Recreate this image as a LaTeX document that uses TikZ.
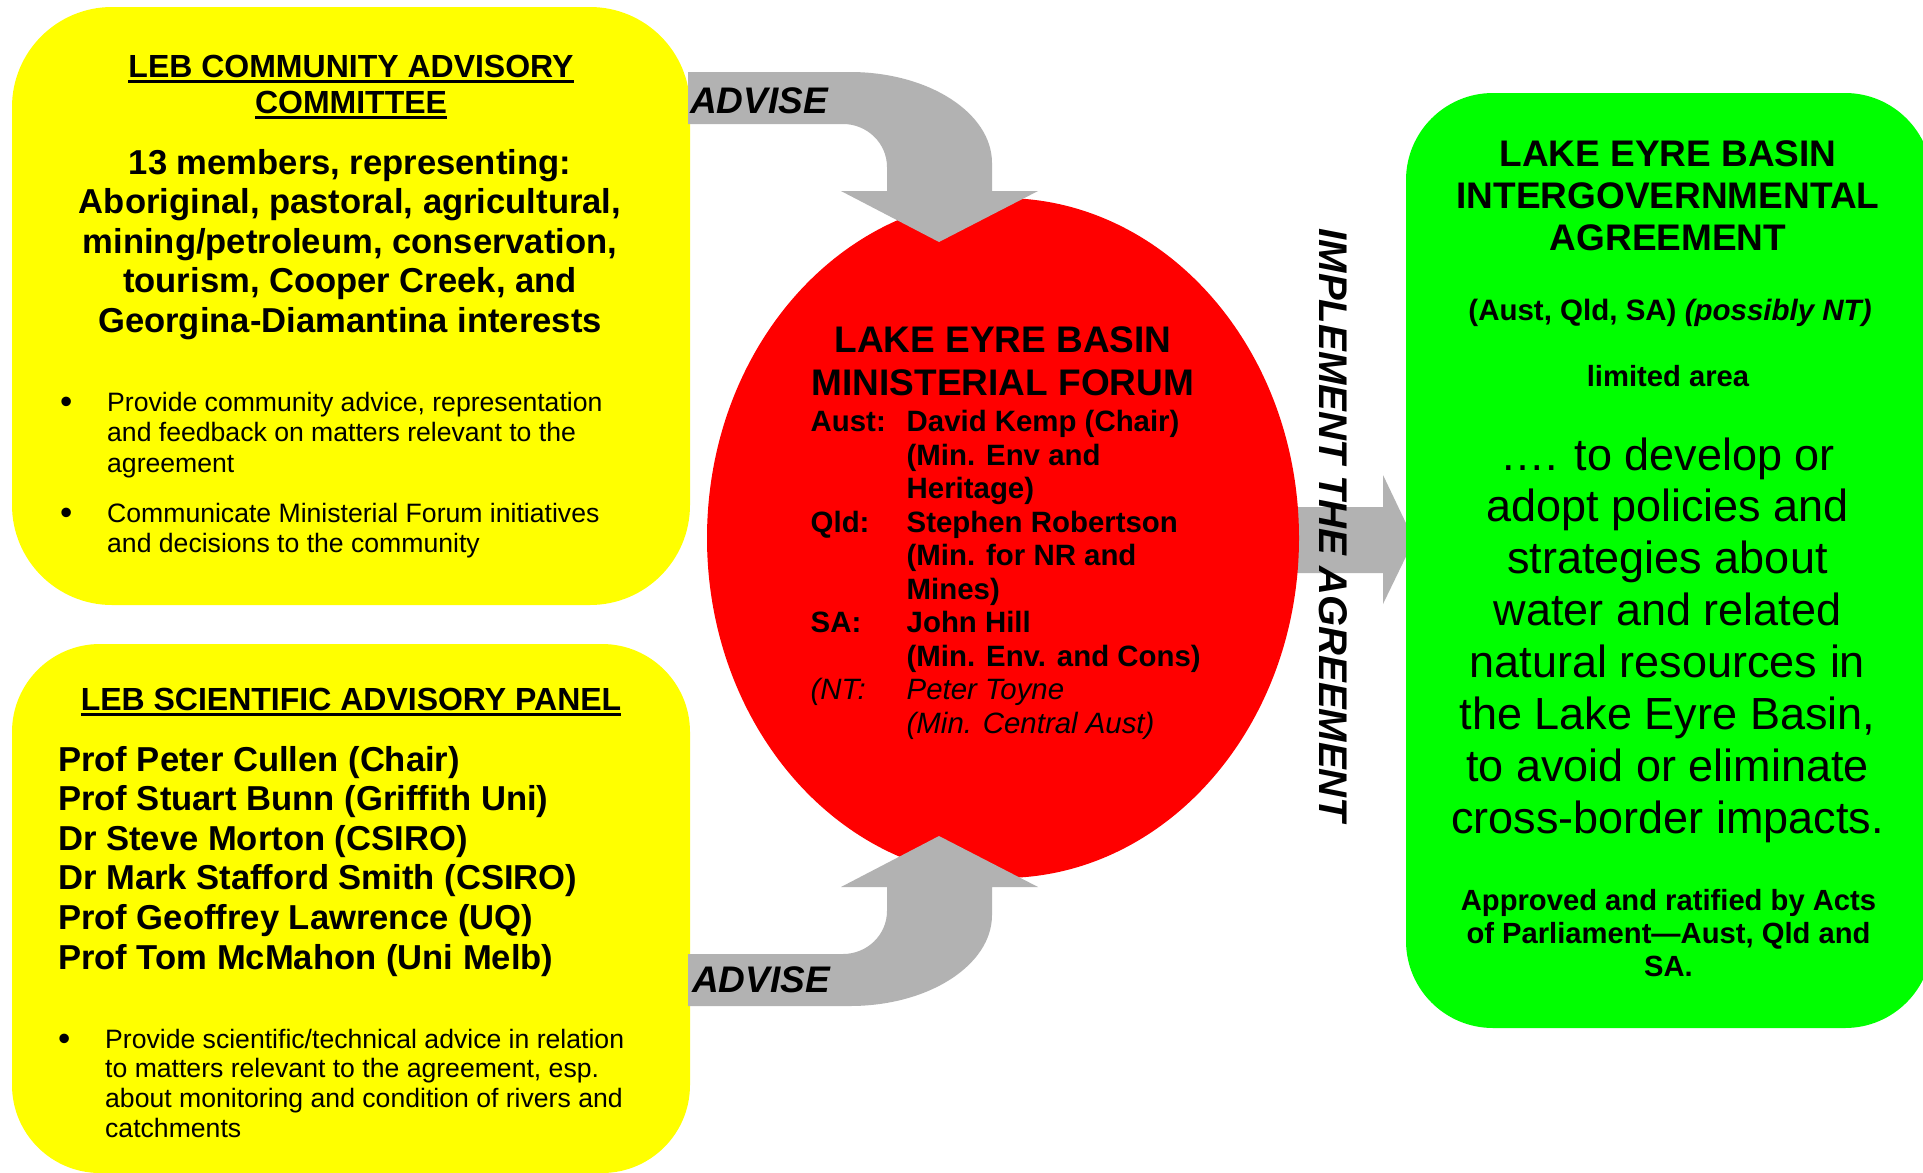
\documentclass[tikz,border=0pt]{standalone}
\usepackage{fontspec}
\setmainfont{Liberation Sans}
\usetikzlibrary{shapes.geometric}
\definecolor{ppyellow}{HTML}{FFFF00}
\definecolor{ppred}{HTML}{FF0000}
\definecolor{ppgreen}{HTML}{00FF00}
\definecolor{ppgray}{HTML}{B2B2B2}
\newcommand\fs[2]{\fontsize{#1pt}{#2pt}\selectfont}
\newcommand\cblk[1]{\vtop{\halign{\hfil##\hfil\cr#1\crcr}}}
\newcommand\lblk[1]{\vtop{\halign{##\hfil\cr#1\crcr}}}
\newcommand\twocol[2]{\vtop{\halign{\hbox to #1{##\hfil}&##\hfil\cr#2\crcr}}}
\newcommand\ulin[1]{\setbox0\hbox{#1}\rlap{\rule[-5.8pt]{\wd0}{3.3pt}}\box0}
\newcommand\bul{\raisebox{-2.6pt}{\fontsize{35pt}{35pt}\selectfont •}}
\begin{document}
\begin{tikzpicture}[x=1pt,y=-1pt,
  box/.style={draw=none, rectangle, inner sep=0pt},
  txt/.style={inner sep=0pt, anchor=base, text=black},
  ltxt/.style={inner sep=0pt, anchor=base west, text=black}]
\useasboundingbox[fill=white] (0,0) rectangle (1923,1173);
% implement arrow (behind ellipse and agreement box)
\coordinate (imptail) at (1290,540);
\fill[ppgray] (imptail) ++(0,-33) -- ++(93,0) -- ++(0,-32) -- ++(31,65) -- ++(-31,64) -- ++(0,-31) -- ++(-93,0) -- cycle;
% advisory boxes
\node[box, fill=ppyellow, minimum width=678pt, minimum height=598pt, rounded corners=100pt] (cac) at (351,306) {};
\node[box, fill=ppyellow, minimum width=678pt, minimum height=529pt, rounded corners=88pt] (sap) at (351,908.5) {};
% ministerial forum
\node[ellipse, fill=ppred, draw=none, minimum width=592pt, minimum height=680pt, inner sep=0pt] (mf) at (1003,538) {};
% advise arrows
\coordinate (tip1) at (939,242);
\coordinate (tip2) at (939,836);
\fill[ppgray] (688,72) -- (850,72) .. controls (928.4,72) and (992,112.8) .. (992,163) -- (992,191) -- (1038,191) -- (tip1) -- (841,191) -- (887,191) -- (887,167) .. controls (887,143.3) and (867.3,124) .. (843,124) -- (688,124) -- cycle;
\fill[ppgray] (688,1006) -- (850,1006) .. controls (928.4,1006) and (992,965.2) .. (992,915) -- (992,887) -- (1038,887) -- (tip2) -- (841,887) -- (887,887) -- (887,911) .. controls (887,934.7) and (867.3,954) .. (843,954) -- (688,954) -- cycle;
% agreement box
\node[box, fill=ppgreen, minimum width=526pt, minimum height=935pt, rounded corners=87pt] (ig) at (1669,560.5) {};
% labels on arrows
\node[ltxt, font=\fs{37}{40}\bfseries\itshape] (adv1) at (690,113) {ADVISE};
\node[ltxt, font=\fs{37}{40}\bfseries\itshape] (adv2) at (692,992) {ADVISE};
\node[inner sep=0pt, rotate=-90, font=\fs{40}{44}\bfseries\itshape] (impl) at (1333,525.5) {IMPLEMENT THE AGREEMENT};
% community advisory committee text
\node[txt, font=\fs{32}{36}\bfseries] (cact) at (351,77) {\cblk{\ulin{LEB COMMUNITY ADVISORY}\cr\ulin{COMMITTEE}}};
\node[txt, font=\fs{34.6}{39.5}\bfseries] (cacm) at (350,174) {\cblk{13 members, representing:\cr Aboriginal, pastoral, agricultural,\cr mining/petroleum, conservation,\cr tourism, Cooper Creek, and\cr Georgina-Diamantina interests}};
\node[ltxt, font=\fs{26.6}{30.5}] (cacb) at (60,411) {\twocol{47pt}{\bul&Provide community advice, representation\cr &and feedback on matters relevant to the\cr &agreement\cr\noalign{\vskip 19.5pt}\bul&Communicate Ministerial Forum initiatives\cr &and decisions to the community}};
% scientific advisory panel text
\node[txt, font=\fs{32}{36}\bfseries] (sapt) at (351,710) {\ulin{LEB SCIENTIFIC ADVISORY PANEL}};
\node[ltxt, font=\fs{34.6}{39.6}\bfseries] (sapn) at (58,771) {\lblk{Prof Peter Cullen (Chair)\cr Prof Stuart Bunn (Griffith Uni)\cr Dr Steve Morton (CSIRO)\cr Dr Mark Stafford Smith (CSIRO)\cr Prof Geoffrey Lawrence (UQ)\cr Prof Tom McMahon (Uni Melb)}};
\node[ltxt, font=\fs{26.6}{29.8}] (sapb) at (58,1048) {\twocol{47pt}{\bul&Provide scientific/technical advice in relation\cr &to matters relevant to the agreement, esp.\cr &about monitoring and condition of rivers and\cr &catchments}};
% ministerial forum text
\node[txt, font=\fs{37}{43}\bfseries] (mft) at (1003,352) {\cblk{LAKE EYRE BASIN\cr MINISTERIAL FORUM}};
\node[ltxt, font=\fs{29.4}{33.5}\bfseries] (mfm) at (810.5,431.6) {\twocol{96pt}{Aust:&David Kemp (Chair)\cr &(Min. Env and\cr &Heritage)\cr Qld:&Stephen Robertson\cr &(Min. for NR and\cr &Mines)\cr SA:&John Hill\cr &(Min. Env. and Cons)\cr \mdseries\itshape (NT:&\mdseries\itshape Peter Toyne\cr &\mdseries\itshape (Min. Central Aust)}};
% agreement text
\node[txt, font=\fs{37}{42}\bfseries] (igt) at (1668,166) {\cblk{LAKE EYRE BASIN\cr INTERGOVERNMENTAL\cr AGREEMENT}};
\node[txt, font=\fs{29.5}{34}\bfseries] (igp) at (1670,320) {(Aust, Qld, SA) \textit{(possibly NT)}};
\node[txt, font=\fs{29.2}{34}\bfseries] (iga) at (1668,386) {limited area};
\node[txt, font=\fs{45}{51.9}] (igm) at (1667.5,470) {\cblk{…. to develop or\cr adopt policies and\cr strategies about\cr water and related\cr natural resources in\cr the Lake Eyre Basin,\cr to avoid or eliminate\cr cross-border impacts.}};
\node[txt, font=\fs{29.2}{33}\bfseries] (igr) at (1668.5,910) {\cblk{Approved and ratified by Acts\cr of Parliament—Aust, Qld and\cr SA.}};
\end{tikzpicture}
\end{document}
